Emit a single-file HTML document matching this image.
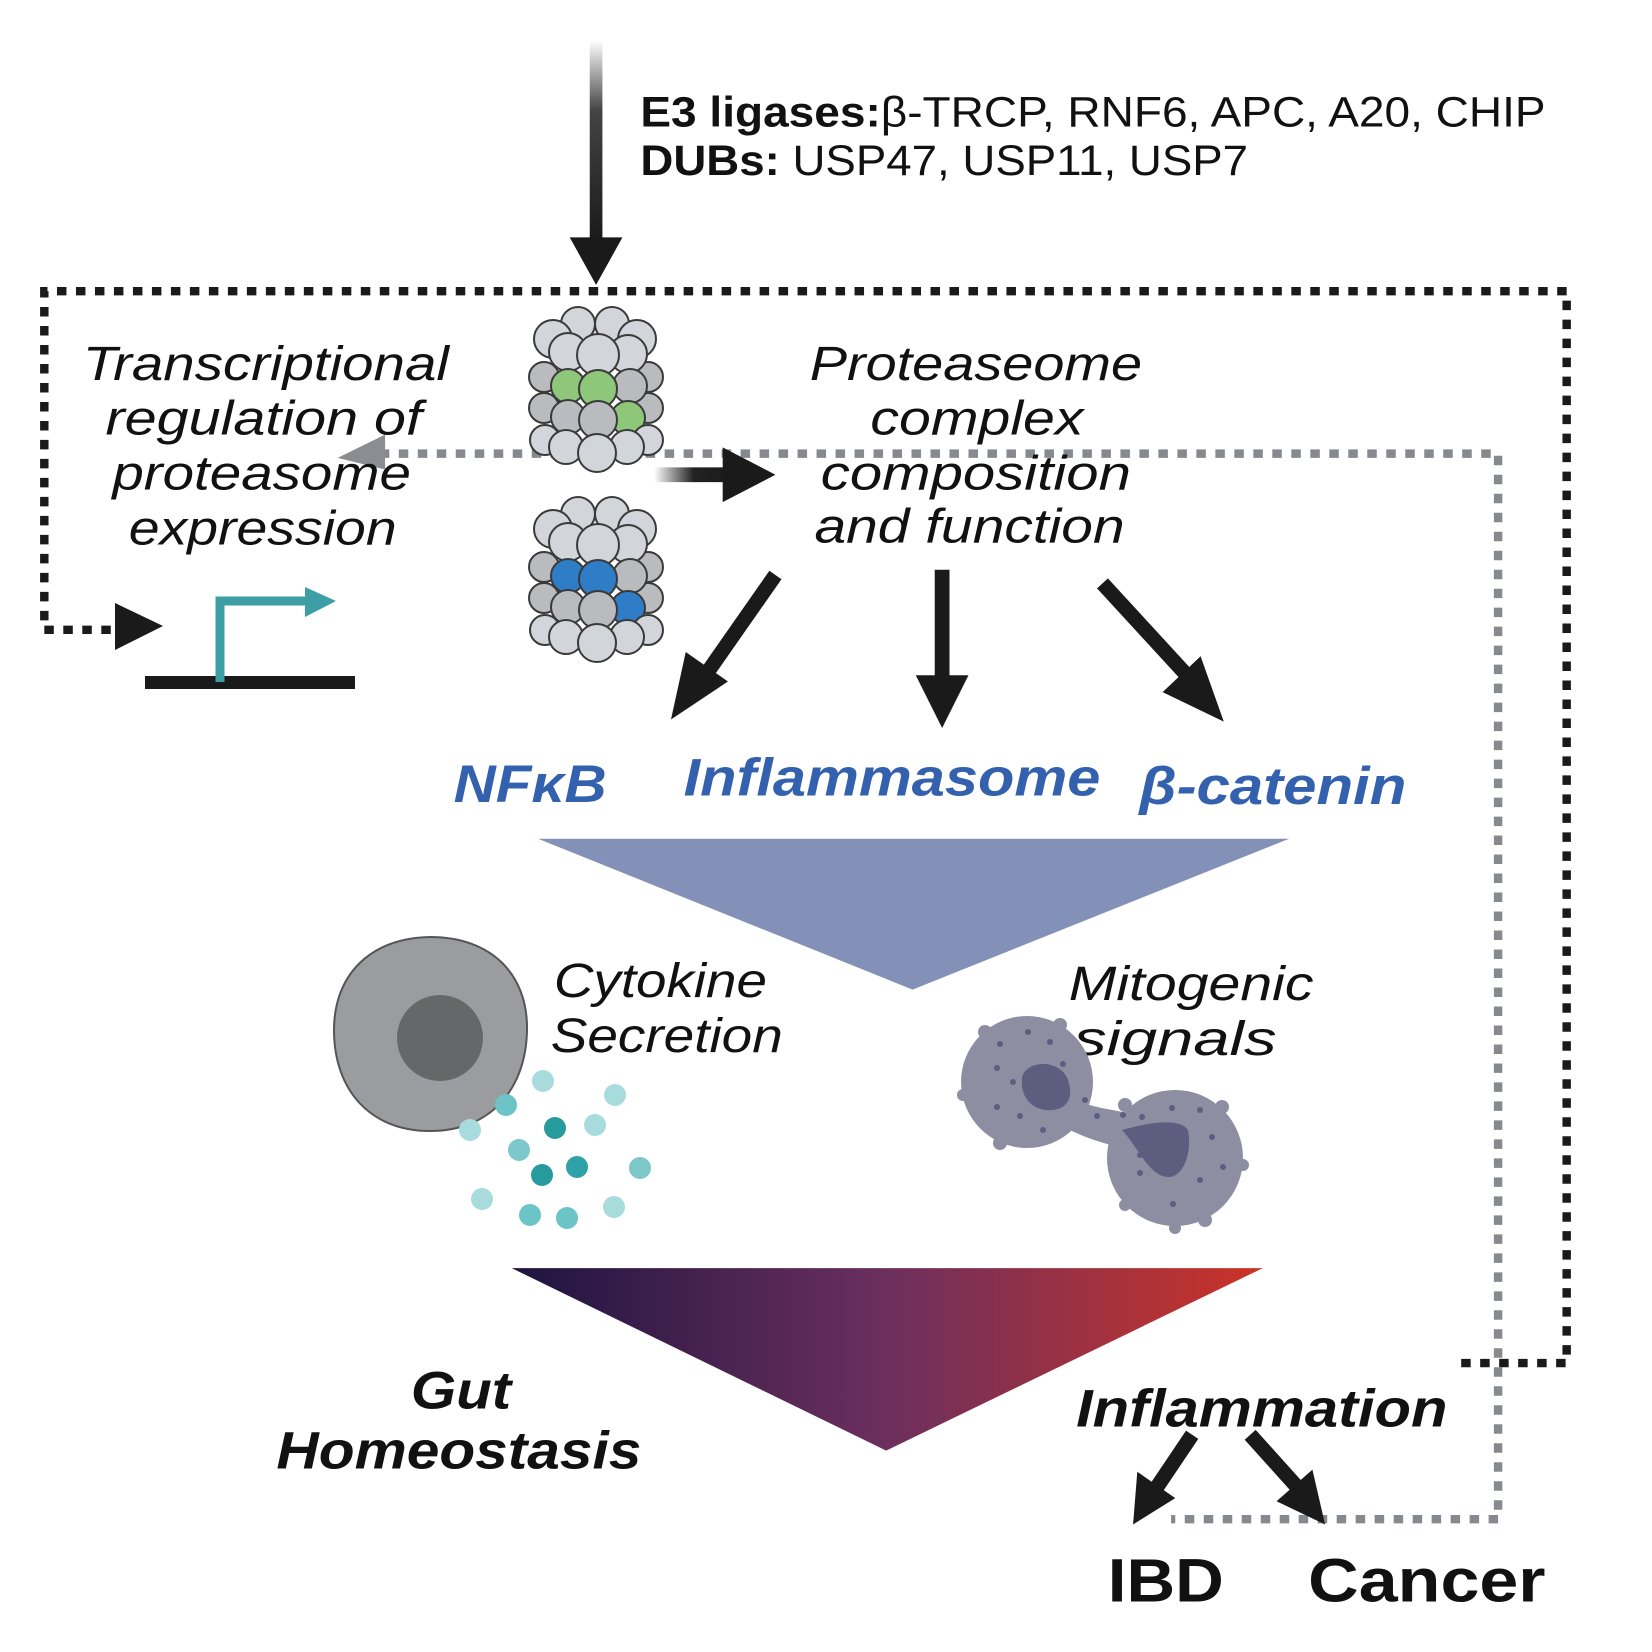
<!DOCTYPE html>
<html><head><meta charset="utf-8"><style>
html,body{margin:0;padding:0;background:#fff;width:1652px;height:1652px;overflow:hidden}
svg{display:block}
text{font-family:"Liberation Sans",Arial,sans-serif}
</style></head><body>
<svg width="1652" height="1652" viewBox="0 0 1652 1652" xmlns="http://www.w3.org/2000/svg">
<defs>
<linearGradient id="topg" x1="0" y1="0" x2="0" y2="1"><stop offset="0" stop-color="#fff"/><stop offset="0.35" stop-color="#444"/><stop offset="1" stop-color="#1a1a1a"/></linearGradient>
<linearGradient id="rg" x1="0" y1="0" x2="1" y2="0"><stop offset="0" stop-color="#fff"/><stop offset="0.5" stop-color="#222"/><stop offset="1" stop-color="#1a1a1a"/></linearGradient>
<linearGradient id="tri" x1="0" y1="0" x2="1" y2="0"><stop offset="0" stop-color="#1e1440"/><stop offset="0.5" stop-color="#6c2f5e"/><stop offset="1" stop-color="#cc3326"/></linearGradient>
</defs>
<g transform="scale(1.055)">
<rect x="559" y="38" width="12" height="190" fill="url(#topg)"/>
<polygon points="540,225 590,225 565,270" fill="#1a1a1a"/>
<text x="607" y="120" font-size="40" fill="#111" textLength="858" lengthAdjust="spacingAndGlyphs"><tspan font-weight="bold">E3 ligases:</tspan>β-TRCP, RNF6, APC, A20, CHIP</text>
<text x="607" y="166" font-size="40" fill="#111" textLength="576" lengthAdjust="spacingAndGlyphs"><tspan font-weight="bold">DUBs:</tspan> USP47, USP11, USP7</text>
<path d="M105,597 L42,597 L42,276 L1485,276 L1485,1292 L1385,1292" fill="none" stroke="#1a1a1a" stroke-width="8" stroke-dasharray="9,9"/>
<path d="M360,430 L1420,430 L1420,1440 L1110,1440" fill="none" stroke="#868a8e" stroke-width="8" stroke-dasharray="9,9"/>
<polygon points="320,434 365,412 365,445" fill="#8a8e92"/>
<g font-size="46" font-style="italic" fill="#111" text-anchor="middle">
<text x="252" y="360" textLength="347" lengthAdjust="spacingAndGlyphs">Transcriptional</text>
<text x="250" y="412" textLength="300" lengthAdjust="spacingAndGlyphs">regulation of</text>
<text x="248" y="464" textLength="283" lengthAdjust="spacingAndGlyphs">proteasome</text>
<text x="249" y="516" textLength="254" lengthAdjust="spacingAndGlyphs">expression</text>
</g>
<g font-size="46" font-style="italic" fill="#111" text-anchor="middle">
<text x="925" y="360" textLength="315" lengthAdjust="spacingAndGlyphs">Proteaseome</text>
<text x="926" y="412" textLength="202" lengthAdjust="spacingAndGlyphs">complex</text>
<text x="925" y="464" textLength="294" lengthAdjust="spacingAndGlyphs">composition</text>
<text x="919" y="514" textLength="294" lengthAdjust="spacingAndGlyphs">and function</text>
</g>
<rect x="620" y="443" width="75" height="14" fill="url(#rg)"/>
<polygon points="685,424 685,476 735,450" fill="#1a1a1a"/>
<g stroke="#1a1a1a" stroke-width="14">
<line x1="735" y1="545" x2="670" y2="638"/>
<line x1="893" y1="540" x2="893" y2="645"/>
<line x1="1045" y1="553" x2="1125" y2="640"/>
</g>
<polygon points="636,682 650,618 690,646" fill="#1a1a1a"/>
<polygon points="868,640 918,640 893,690" fill="#1a1a1a"/>
<polygon points="1160,684 1102,656 1138,622" fill="#1a1a1a"/>
<g font-size="50" font-weight="bold" font-style="italic" fill="#3461ad">
<text x="430" y="760" textLength="145" lengthAdjust="spacingAndGlyphs">NFκB</text>
<text x="648" y="754" textLength="395" lengthAdjust="spacingAndGlyphs">Inflammasome</text>
<text x="1080" y="762" textLength="253" lengthAdjust="spacingAndGlyphs">β-catenin</text>
</g>
<polygon points="510,795 1222,795 865,938" fill="#8391b8"/>
<g font-size="46" font-style="italic" fill="#111">
<text x="525" y="945" textLength="202" lengthAdjust="spacingAndGlyphs">Cytokine</text>
<text x="522" y="997" textLength="220" lengthAdjust="spacingAndGlyphs">Secretion</text>
</g>
<g font-size="46" font-style="italic" fill="#111" text-anchor="middle">
<text x="1129" y="948" textLength="232" lengthAdjust="spacingAndGlyphs">Mitogenic</text>
<text x="1114" y="1000" textLength="192" lengthAdjust="spacingAndGlyphs">signals</text>
</g>
<polygon points="485,1202 1197,1202 840,1375" fill="url(#tri)"/>
<g font-size="50" font-weight="bold" font-style="italic" fill="#111" text-anchor="middle">
<text x="437" y="1335" textLength="95" lengthAdjust="spacingAndGlyphs">Gut</text>
<text x="435" y="1392" textLength="346" lengthAdjust="spacingAndGlyphs">Homeostasis</text>
<text x="1196" y="1352" textLength="352" lengthAdjust="spacingAndGlyphs">Inflammation</text>
</g>
<g stroke="#1a1a1a" stroke-width="14">
<line x1="1130" y1="1360" x2="1095" y2="1412"/>
<line x1="1185" y1="1360" x2="1230" y2="1410"/>
</g>
<polygon points="1074,1445 1078,1395 1114,1420" fill="#1a1a1a"/>
<polygon points="1256,1445 1210,1423 1244,1393" fill="#1a1a1a"/>
<g font-size="58" font-weight="bold" fill="#111">
<text x="1050" y="1518" textLength="110" lengthAdjust="spacingAndGlyphs">IBD</text>
<text x="1240" y="1518" textLength="225" lengthAdjust="spacingAndGlyphs">Cancer</text>
</g>
</g>
<!-- proteasome top -->
<g transform="translate(532,307)" stroke="#3a3a3a" stroke-width="2">
<circle cx="46" cy="17" r="17" fill="#d2d5d9"/><circle cx="80" cy="17" r="17" fill="#d2d5d9"/>
<circle cx="21" cy="32" r="19" fill="#d2d5d9"/><circle cx="105" cy="32" r="19" fill="#d2d5d9"/>
<circle cx="12" cy="70" r="15" fill="#b9bbbe"/><circle cx="116" cy="70" r="15" fill="#b9bbbe"/>
<circle cx="12" cy="101" r="15" fill="#b9bbbe"/><circle cx="116" cy="101" r="15" fill="#b9bbbe"/>
<circle cx="36" cy="45" r="19" fill="#d2d5d9"/><circle cx="96" cy="47" r="19" fill="#d2d5d9"/>
<circle cx="66" cy="48" r="21" fill="#d2d5d9"/>
<circle cx="98" cy="79" r="17" fill="#b9bbbe"/><circle cx="36" cy="79" r="17" fill="#8ec77a"/><circle cx="66" cy="82" r="19" fill="#8ec77a"/>
<circle cx="36" cy="110" r="17" fill="#b9bbbe"/><circle cx="96" cy="111" r="17" fill="#8ec77a"/><circle cx="66" cy="113" r="19" fill="#b9bbbe"/>
<circle cx="13" cy="133" r="15" fill="#d2d5d9"/><circle cx="116" cy="133" r="15" fill="#d2d5d9"/>
<circle cx="34" cy="140" r="17" fill="#d2d5d9"/><circle cx="95" cy="140" r="17" fill="#d2d5d9"/>
<circle cx="65" cy="146" r="19" fill="#d2d5d9"/>
</g>
<g transform="translate(532,497)" stroke="#3a3a3a" stroke-width="2">
<circle cx="46" cy="17" r="17" fill="#d2d5d9"/><circle cx="80" cy="17" r="17" fill="#d2d5d9"/>
<circle cx="21" cy="32" r="19" fill="#d2d5d9"/><circle cx="105" cy="32" r="19" fill="#d2d5d9"/>
<circle cx="12" cy="70" r="15" fill="#b9bbbe"/><circle cx="116" cy="70" r="15" fill="#b9bbbe"/>
<circle cx="12" cy="101" r="15" fill="#b9bbbe"/><circle cx="116" cy="101" r="15" fill="#b9bbbe"/>
<circle cx="36" cy="45" r="19" fill="#d2d5d9"/><circle cx="96" cy="47" r="19" fill="#d2d5d9"/>
<circle cx="66" cy="48" r="21" fill="#d2d5d9"/>
<circle cx="98" cy="79" r="17" fill="#b9bbbe"/><circle cx="36" cy="79" r="17" fill="#2f7dc6"/><circle cx="66" cy="82" r="19" fill="#2f7dc6"/>
<circle cx="36" cy="110" r="17" fill="#b9bbbe"/><circle cx="96" cy="111" r="17" fill="#2f7dc6"/><circle cx="66" cy="113" r="19" fill="#b9bbbe"/>
<circle cx="13" cy="133" r="15" fill="#d2d5d9"/><circle cx="116" cy="133" r="15" fill="#d2d5d9"/>
<circle cx="34" cy="140" r="17" fill="#d2d5d9"/><circle cx="95" cy="140" r="17" fill="#d2d5d9"/>
<circle cx="65" cy="146" r="19" fill="#d2d5d9"/>
</g>
<!-- promoter -->
<rect x="145" y="676" width="210" height="13" fill="#1a1a1a"/>
<path d="M220,682 L220,601 L310,601" fill="none" stroke="#3e9ea6" stroke-width="9"/>
<polygon points="305,587 305,617 336,601" fill="#3e9ea6"/>
<polygon points="115,603 115,650 163,626" fill="#1a1a1a"/>
<!-- secreting cell -->
<path d="M334,1030 C334,975 370,938 430,937 C492,937 528,975 527,1030 C526,1090 490,1131 430,1131 C370,1131 334,1090 334,1030Z" fill="#9b9ca0" stroke="#555" stroke-width="2"/>
<circle cx="440" cy="1038" r="43" fill="#666769"/>
<g>
<circle cx="543" cy="1081" r="11" fill="#a8dcdc"/><circle cx="615" cy="1095" r="11" fill="#a8dcdc"/>
<circle cx="506" cy="1105" r="11" fill="#6cc4c6"/><circle cx="555" cy="1128" r="11" fill="#279a9e"/>
<circle cx="595" cy="1125" r="11" fill="#a8dcdc"/><circle cx="470" cy="1130" r="11" fill="#a8dcdc"/>
<circle cx="519" cy="1150" r="11" fill="#7cc8ca"/><circle cx="542" cy="1175" r="11" fill="#279a9e"/>
<circle cx="577" cy="1167" r="11" fill="#2ea2a6"/><circle cx="640" cy="1168" r="11" fill="#7cc8ca"/>
<circle cx="482" cy="1199" r="11" fill="#a8dcdc"/><circle cx="530" cy="1215" r="11" fill="#6cc4c6"/>
<circle cx="567" cy="1218" r="11" fill="#6cc4c6"/><circle cx="614" cy="1207" r="11" fill="#a8dcdc"/>
</g>
<!-- dividing cell -->
<g fill="#8e8ea3">
<circle cx="1027" cy="1082" r="66"/>
<circle cx="1175" cy="1158" r="68"/>
<path d="M1075,1100 C1100,1110 1120,1110 1135,1115 L1130,1150 C1110,1145 1090,1140 1070,1130Z"/>
<circle cx="985" cy="1032" r="7"/><circle cx="1060" cy="1025" r="7"/><circle cx="963" cy="1095" r="6"/><circle cx="1000" cy="1143" r="7"/>
<circle cx="1125" cy="1105" r="7"/><circle cx="1222" cy="1107" r="7"/><circle cx="1243" cy="1165" r="6"/><circle cx="1205" cy="1220" r="7"/><circle cx="1125" cy="1205" r="6"/><circle cx="1175" cy="1228" r="6"/>
</g>
<path d="M1022,1078 C1025,1060 1060,1058 1068,1080 C1075,1100 1065,1112 1045,1110 C1030,1108 1020,1095 1022,1078Z" fill="#5d5d80"/>
<path d="M1122,1130 C1150,1122 1180,1118 1188,1130 C1192,1150 1185,1175 1170,1177 C1150,1178 1140,1150 1122,1130Z" fill="#5d5d80"/>
<g fill="#5d5d80">
<circle cx="1000" cy="1044" r="3"/><circle cx="1028" cy="1032" r="3"/><circle cx="1050" cy="1042" r="3"/><circle cx="1063" cy="1064" r="3"/><circle cx="997" cy="1068" r="3"/><circle cx="1013" cy="1082" r="3"/><circle cx="997" cy="1107" r="3"/><circle cx="1020" cy="1116" r="3"/><circle cx="1043" cy="1130" r="3"/><circle cx="1085" cy="1100" r="3"/><circle cx="1097" cy="1116" r="3"/><circle cx="1123" cy="1115" r="3"/><circle cx="1142" cy="1117" r="3"/><circle cx="1172" cy="1108" r="3"/><circle cx="1200" cy="1110" r="3"/><circle cx="1212" cy="1137" r="3"/><circle cx="1223" cy="1167" r="3"/><circle cx="1200" cy="1180" r="3"/><circle cx="1140" cy="1155" r="3"/><circle cx="1140" cy="1173" r="3"/><circle cx="1173" cy="1204" r="3"/>
</g>
</svg>
</body></html>
